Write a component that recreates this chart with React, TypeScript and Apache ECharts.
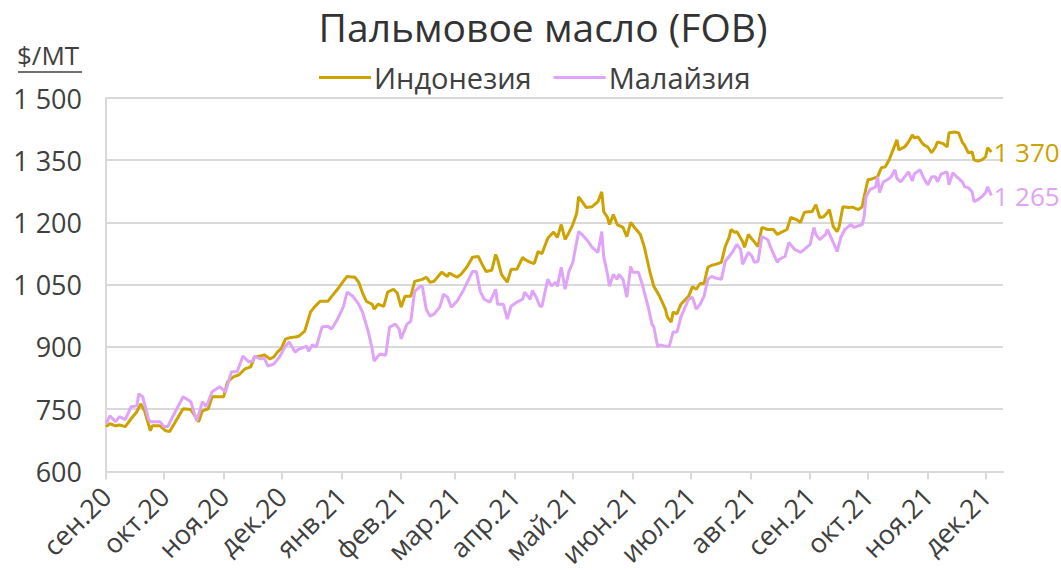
import React, { useEffect, useRef } from "react";
import * as echarts from "echarts";

const TITLE = "Пальмовое масло (FOB)";
const UNIT = "$/MT";
const SERIES_NAMES = ["Индонезия", "Малайзия"];
const COLORS = ["#CCA300", "#DFA3F7"];
const MONTHS = ["янв", "фев", "мар", "апр", "май", "июн", "июл", "авг", "сен", "окт", "ноя", "дек"];
const AXIS_START = "2020-09-01";
const AXIS_END = "2021-12-10";
const Y_MIN = 600;
const Y_MAX = 1500;
const Y_STEP = 150;

const indoDates = [
  "2020-09-01","2020-09-03","2020-09-06","2020-09-08","2020-09-11","2020-09-14","2020-09-17","2020-09-19","2020-09-21","2020-09-24","2020-09-25","2020-09-29",
  "2020-10-02","2020-10-04","2020-10-07","2020-10-11","2020-10-15","2020-10-19","2020-10-21","2020-10-24","2020-10-26",
  "2020-11-01","2020-11-03","2020-11-06","2020-11-09","2020-11-12","2020-11-15","2020-11-17","2020-11-20","2020-11-22","2020-11-25","2020-11-27","2020-11-29",
  "2020-12-01","2020-12-03","2020-12-05","2020-12-08","2020-12-10","2020-12-13","2020-12-16","2020-12-18","2020-12-21","2020-12-25","2020-12-27","2020-12-30",
  "2021-01-02","2021-01-04","2021-01-08","2021-01-10","2021-01-12","2021-01-14","2021-01-17","2021-01-18","2021-01-20","2021-01-23","2021-01-25","2021-01-28","2021-01-30",
  "2021-02-01","2021-02-03","2021-02-06","2021-02-08","2021-02-12","2021-02-14","2021-02-16","2021-02-18","2021-02-22","2021-02-25","2021-02-26",
  "2021-03-02","2021-03-04","2021-03-07","2021-03-10","2021-03-13","2021-03-15","2021-03-17","2021-03-20","2021-03-22","2021-03-23","2021-03-25","2021-03-28","2021-03-30",
  "2021-04-02","2021-04-05","2021-04-06","2021-04-09","2021-04-11","2021-04-13","2021-04-15","2021-04-18","2021-04-21","2021-04-23","2021-04-25","2021-04-27","2021-04-29",
  "2021-05-01","2021-05-03","2021-05-04","2021-05-06","2021-05-08","2021-05-11","2021-05-14","2021-05-16","2021-05-17","2021-05-19","2021-05-20","2021-05-22","2021-05-24","2021-05-27","2021-05-29","2021-05-31",
  "2021-06-02","2021-06-05","2021-06-07","2021-06-10","2021-06-12","2021-06-15","2021-06-18","2021-06-19","2021-06-21","2021-06-22","2021-06-24","2021-06-26","2021-06-30",
  "2021-07-02","2021-07-04","2021-07-06","2021-07-08","2021-07-10","2021-07-12","2021-07-14","2021-07-17","2021-07-19","2021-07-21","2021-07-22","2021-07-24","2021-07-25","2021-07-28","2021-07-29","2021-07-31",
  "2021-08-02","2021-08-03","2021-08-05","2021-08-07","2021-08-10","2021-08-13","2021-08-15","2021-08-17","2021-08-20","2021-08-22","2021-08-25","2021-08-27","2021-08-29","2021-08-31",
  "2021-09-02","2021-09-04","2021-09-06","2021-09-08","2021-09-10","2021-09-11","2021-09-13","2021-09-15","2021-09-16","2021-09-18","2021-09-21","2021-09-23","2021-09-26","2021-09-28","2021-09-29",
  "2021-10-01","2021-10-03","2021-10-06","2021-10-07","2021-10-08","2021-10-10","2021-10-12","2021-10-14","2021-10-16","2021-10-17","2021-10-20","2021-10-22","2021-10-24","2021-10-25","2021-10-27","2021-10-29","2021-10-30",
  "2021-11-01","2021-11-03","2021-11-05","2021-11-06","2021-11-09","2021-11-11","2021-11-12","2021-11-15","2021-11-17","2021-11-19","2021-11-20","2021-11-22","2021-11-24","2021-11-25","2021-11-27","2021-11-29",
  "2021-12-01","2021-12-02","2021-12-04"
];
const indoValues = [
  708,715,710,712,708,727,744,763,746,698,710,710,
  698,696,720,751,749,720,746,751,780,
  780,816,828,833,847,852,876,878,881,871,876,888,
  897,919,922,924,926,938,984,996,1010,1010,1022,1039,
  1058,1070,1068,1056,1030,1010,1003,991,1003,998,1032,1039,1030,
  996,1022,1022,1058,1063,1068,1056,1058,1080,1070,1078,
  1068,1075,1092,1116,1118,1099,1082,1085,1123,1111,1075,1056,1087,
  1087,1116,1111,1104,1101,1130,1125,1162,1177,1164,1195,1159,1176,
  1195,1222,1262,1249,1236,1238,1250,1274,1226,1212,1195,1219,1195,1188,1166,1200,
  1188,1171,1142,1080,1046,1022,991,972,960,984,980,1003,1022,
  1045,1039,1053,1053,1092,1097,1099,1104,1142,1164,1183,1176,1178,1154,1140,1171,
  1159,1154,1142,1188,1183,1183,1171,1176,1183,1212,1207,1200,1224,1226,
  1226,1243,1212,1214,1224,1231,1190,1178,1189,1238,1236,1237,1231,1238,1262,
  1303,1305,1310,1322,1332,1334,1351,1375,1399,1375,1382,1394,1411,1404,1406,1392,1387,
  1382,1368,1382,1394,1390,1382,1416,1418,1416,1392,1387,1368,1370,1351,1348,1351,
  1358,1380,1370
];

const malayDates = [
  "2020-09-01","2020-09-03","2020-09-06","2020-09-08","2020-09-11","2020-09-14","2020-09-17","2020-09-18","2020-09-20","2020-09-23","2020-09-24","2020-09-29",
  "2020-10-01","2020-10-03","2020-10-05","2020-10-11","2020-10-15","2020-10-18","2020-10-21","2020-10-23","2020-10-26","2020-10-30",
  "2020-11-02","2020-11-05","2020-11-08","2020-11-11","2020-11-14","2020-11-16","2020-11-17","2020-11-20","2020-11-22","2020-11-24","2020-11-27","2020-11-30",
  "2020-12-03","2020-12-05","2020-12-08","2020-12-10","2020-12-14","2020-12-15","2020-12-17","2020-12-19","2020-12-22","2020-12-25","2020-12-27","2020-12-30",
  "2021-01-02","2021-01-04","2021-01-07","2021-01-10","2021-01-12","2021-01-15","2021-01-17","2021-01-18","2021-01-21","2021-01-24","2021-01-26","2021-01-29","2021-01-31",
  "2021-02-01","2021-02-04","2021-02-06","2021-02-08","2021-02-11","2021-02-12","2021-02-14","2021-02-16","2021-02-18","2021-02-21","2021-02-23","2021-02-25","2021-02-27",
  "2021-03-02","2021-03-05","2021-03-08","2021-03-10","2021-03-12","2021-03-14","2021-03-16","2021-03-19","2021-03-22","2021-03-23","2021-03-26","2021-03-28","2021-03-30",
  "2021-04-02","2021-04-05","2021-04-06","2021-04-09","2021-04-10","2021-04-12","2021-04-14","2021-04-15","2021-04-18","2021-04-20","2021-04-22","2021-04-23","2021-04-25","2021-04-27","2021-04-29",
  "2021-05-01","2021-05-04","2021-05-06","2021-05-09","2021-05-11","2021-05-14","2021-05-16","2021-05-17","2021-05-19","2021-05-20","2021-05-22","2021-05-24","2021-05-25","2021-05-27","2021-05-29","2021-05-31",
  "2021-06-01","2021-06-04","2021-06-06","2021-06-09","2021-06-11","2021-06-12","2021-06-14","2021-06-15","2021-06-18","2021-06-20","2021-06-22","2021-06-24","2021-06-26","2021-06-30",
  "2021-07-02","2021-07-04","2021-07-06","2021-07-08","2021-07-10","2021-07-12","2021-07-14","2021-07-17","2021-07-19","2021-07-21","2021-07-23","2021-07-25","2021-07-27","2021-07-28","2021-07-31",
  "2021-08-02","2021-08-03","2021-08-05","2021-08-07","2021-08-10","2021-08-12","2021-08-15","2021-08-16","2021-08-19","2021-08-21","2021-08-24","2021-08-27","2021-08-29",
  "2021-09-01","2021-09-03","2021-09-04","2021-09-06","2021-09-09","2021-09-10","2021-09-13","2021-09-15","2021-09-17","2021-09-19","2021-09-22","2021-09-24","2021-09-26","2021-09-28","2021-09-29","2021-09-30",
  "2021-10-02","2021-10-05","2021-10-06","2021-10-07","2021-10-09","2021-10-11","2021-10-13","2021-10-15","2021-10-16","2021-10-18","2021-10-20","2021-10-22","2021-10-24","2021-10-25","2021-10-28","2021-10-30",
  "2021-11-01","2021-11-03","2021-11-05","2021-11-06","2021-11-08","2021-11-11","2021-11-12","2021-11-14","2021-11-16","2021-11-19","2021-11-20","2021-11-22","2021-11-24","2021-11-25","2021-11-27","2021-11-29",
  "2021-12-01","2021-12-02","2021-12-04"
];
const malayValues = [
  715,734,720,732,725,756,758,787,780,727,720,720,
  708,708,727,780,768,722,768,756,792,804,
  792,840,840,878,864,866,878,871,873,854,859,876,
  902,912,888,895,902,890,905,900,948,950,943,967,
  996,1032,1022,1003,984,936,895,866,883,880,948,955,943,
  919,955,962,1034,1046,1046,991,974,979,996,1027,1020,996,
  1010,1034,1063,1082,1082,1034,1015,1008,1039,1003,1003,967,998,
  1008,1015,1032,1015,1036,1020,998,998,1063,1047,1056,1046,1092,1039,1082,
  1104,1178,1170,1154,1140,1128,1178,1118,1075,1046,1075,1063,1075,1063,1020,1094,
  1080,1080,1051,998,955,948,900,905,902,902,936,936,972,1015,
  1020,991,1003,1022,1063,1070,1066,1063,1106,1118,1130,1147,1135,1099,1128,
  1118,1104,1106,1166,1159,1135,1104,1111,1118,1152,1135,1128,1135,
  1147,1188,1171,1159,1171,1183,1152,1130,1165,1183,1195,1188,1192,1195,1214,1262,
  1279,1286,1310,1272,1298,1303,1310,1327,1306,1298,1310,1322,1300,1317,1327,1306,
  1291,1310,1310,1298,1317,1322,1291,1320,1310,1298,1286,1284,1274,1250,1255,1262,
  1272,1286,1265
];

const FONT = "'Open Sans', 'Noto Sans', sans-serif";
const TEXT_COLOR = "#404040";

function fmtNum(v: number): string {
  if (v >= 1000) {
    return Math.floor(v / 1000) + " " + String(v % 1000).padStart(3, "0");
  }
  return String(v);
}

function buildDays(start: string, end: string): string[] {
  const out: string[] = [];
  const d = new Date(start + "T00:00:00Z");
  const e = new Date(end + "T00:00:00Z");
  while (d.getTime() <= e.getTime()) {
    out.push(d.toISOString().slice(0, 10));
    d.setUTCDate(d.getUTCDate() + 1);
  }
  return out;
}

function monthLabel(v: string): string {
  const m = parseInt(v.slice(5, 7), 10);
  return MONTHS[m - 1] + "." + v.slice(2, 4);
}

export default function App() {
  const ref = useRef<HTMLDivElement>(null);
  useEffect(() => {
    document.body.style.margin = "0";
    if (!ref.current) return;
    const chart = echarts.init(ref.current, undefined, { renderer: "svg" });
    const days = buildDays(AXIS_START, AXIS_END);
    const isMonthStart = (_i: number, v: string) => v.slice(8, 10) === "01";
    const mk = (dates: string[], vals: number[]) => dates.map((d, i) => [d, vals[i]]);
    chart.setOption({
      animation: false,
      backgroundColor: "#ffffff",
      title: {
        text: TITLE,
        left: 538,
        textAlign: "center",
        top: 2,
        textStyle: { fontFamily: FONT, fontSize: 39, fontWeight: "normal", color: "#333333" },
      },
      legend: {
        data: SERIES_NAMES,
        top: 58,
        left: 314,
        itemWidth: 52,
        itemHeight: 3,
        itemGap: 22,
        icon: "rect",
        textStyle: { fontFamily: FONT, fontSize: 29, color: TEXT_COLOR, padding: [0, 0, 0, -2] },
      },
      graphic: [
        {
          type: "text",
          left: 17,
          top: 42,
          style: { text: UNIT, fontFamily: FONT, fontSize: 26, fill: TEXT_COLOR },
        },
        {
          type: "line",
          shape: { x1: 18, y1: 72, x2: 82, y2: 72 },
          style: { stroke: TEXT_COLOR, lineWidth: 1.5 },
        },
      ],
      grid: { left: 106, right: 58, top: 98, bottom: 97, containLabel: false },
      xAxis: {
        type: "category",
        data: days,
        boundaryGap: false,
        axisLine: { show: true, lineStyle: { color: "#d9d9d9", width: 2 } },
        axisTick: {
          show: true,
          interval: isMonthStart,
          length: 8,
          lineStyle: { color: "#d9d9d9", width: 2 },
        },
        axisLabel: {
          interval: isMonthStart,
          rotate: 45,
          formatter: monthLabel,
          fontFamily: FONT,
          fontSize: 27,
          color: TEXT_COLOR,
          margin: 20,
        },
        splitLine: { show: false },
      },
      yAxis: {
        type: "value",
        min: Y_MIN,
        max: Y_MAX,
        interval: Y_STEP,
        axisLine: { show: true, lineStyle: { color: "#d9d9d9", width: 2 } },
        axisTick: { show: false },
        axisLabel: {
          formatter: (v: number) => fmtNum(v),
          fontFamily: FONT,
          fontSize: 27,
          color: TEXT_COLOR,
          margin: 24,
        },
        splitLine: { show: true, lineStyle: { color: "#d9d9d9", width: 2 } },
      },
      series: [
        {
          name: SERIES_NAMES[0],
          type: "line",
          data: mk(indoDates, indoValues),
          showSymbol: false,
          symbol: "none",
          color: COLORS[0],
          lineStyle: { color: COLORS[0], width: 3 },
          endLabel: {
            show: true,
            formatter: (p: any) => fmtNum(p.value[1]),
            fontFamily: FONT,
            fontSize: 26,
            color: COLORS[0],
            distance: 2,
          },
        },
        {
          name: SERIES_NAMES[1],
          type: "line",
          data: mk(malayDates, malayValues),
          showSymbol: false,
          symbol: "none",
          color: COLORS[1],
          lineStyle: { color: COLORS[1], width: 3 },
          endLabel: {
            show: true,
            formatter: (p: any) => fmtNum(p.value[1]),
            fontFamily: FONT,
            fontSize: 26,
            color: COLORS[1],
            distance: 2,
          },
        },
      ],
    });
    return () => chart.dispose();
  }, []);
  return <div ref={ref} style={{ width: 1061, height: 570 }} />;
}
